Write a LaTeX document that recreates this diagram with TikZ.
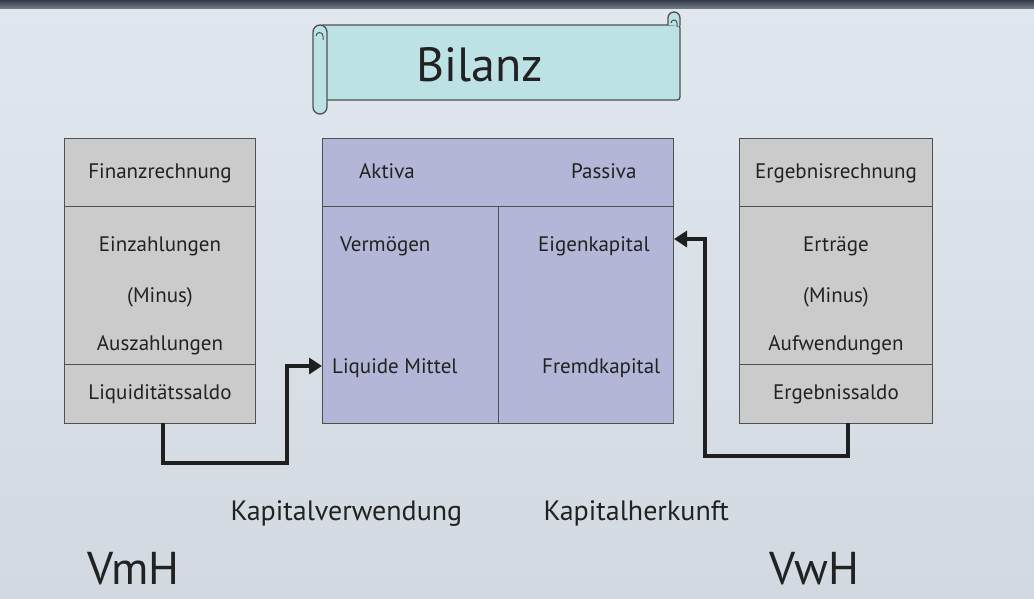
\documentclass[tikz,border=0pt]{standalone}
\usepackage{fontspec}
\setmainfont{PT Sans}
\usetikzlibrary{arrows.meta,positioning}
\definecolor{bgtop}{HTML}{E0E7EE}
\definecolor{bgbot}{HTML}{D2D9E1}
\definecolor{barcol}{HTML}{4B5666}
\definecolor{cellgray}{HTML}{CBCBCB}
\definecolor{cellblue}{HTML}{B3B6D6}
\definecolor{scrollcol}{HTML}{BDE2E5}
\definecolor{edgecol}{HTML}{505050}
\definecolor{txt}{HTML}{222222}
\tikzset{
  cell/.style = {draw=edgecol, line width=1pt, anchor=north west, inner sep=0pt},
  label text/.style = {text=txt, font=\fontsize{21}{24}\selectfont, inner sep=1pt, anchor=base},
  conn/.style = {line width=4pt, draw=black!88, -{Triangle[length=13pt,width=16pt]}},
  scroll/.style = {fill=scrollcol, draw=edgecol, line width=1.3pt}
}
\begin{document}
\begin{tikzpicture}[x=1pt, y=-1pt]
  % background and top bar
  \shade[top color=bgtop, bottom color=bgbot] (0,0) rectangle (1034,598);
  \shade[top color=barcol!70!black, bottom color=barcol!80] (0,0) rectangle (1034,8);
  \useasboundingbox (0,0) rectangle (1034,598);

  % scroll
  \draw[scroll, rounded corners=3pt] (320,25) -- (680,25) -- (680,100) -- (320,100) -- cycle;
  \draw[scroll] (668,25) -- (668,18) arc (180:360:6) -- (680,26);
  \draw[edgecol, line width=1pt] (671,23) arc (180:360:3) -- (677,27);
  \draw[scroll] (313,32) arc (180:360:7) -- (327,107) arc (0:180:7) -- cycle;
  \draw[edgecol, line width=1pt] (316,36) arc (180:360:3.5) -- (323,40);
  \node[text=txt, font=\fontsize{48}{52}\selectfont] (bilanz) at (480,65) {Bilanz};

  % Finanzrechnung
  \node[cell, fill=cellgray, minimum width=191pt, minimum height=68pt] (finhead) at (64,138) {};
  \node[cell, fill=cellgray, minimum width=191pt, minimum height=158pt] (finbody) at (64,206) {};
  \node[cell, fill=cellgray, minimum width=191pt, minimum height=59pt] (finsaldo) at (64,364) {};
  \node[label text] (finname) at (finhead.center |- 0,178) {Finanzrechnung};
  \node[label text] (einz) at (finhead.center |- 0,251) {Einzahlungen};
  \node[label text] (finminus) at (finhead.center |- 0,302) {(Minus)};
  \node[label text] (ausz) at (finhead.center |- 0,350) {Auszahlungen};
  \node[label text] (liqsaldo) at (finhead.center |- 0,399) {Liquiditätssaldo};

  % Bilanz table
  \node[cell, fill=cellblue, minimum width=351pt, minimum height=68pt] (bilhead) at (322,138) {};
  \node[cell, fill=cellblue, minimum width=176pt, minimum height=217pt] (aktiv) at (322,206) {};
  \node[cell, fill=cellblue, minimum width=175pt, minimum height=217pt] (passiv) at (498,206) {};
  \node[label text, anchor=base west] (aktiva) at (358,178) {Aktiva};
  \node[label text, anchor=base west] (passiva) at (570,178) {Passiva};
  \node[label text, anchor=base west] (vermoegen) at (339,251) {Vermögen};
  \node[label text, anchor=base west] (eigen) at (537,251) {Eigenkapital};
  \node[label text, anchor=base west] (liquide) at (331,373) {Liquide Mittel};
  \node[label text, anchor=base west] (fremd) at (541,373) {Fremdkapital};

  % Ergebnisrechnung
  \node[cell, fill=cellgray, minimum width=193pt, minimum height=68pt] (erghead) at (739,138) {};
  \node[cell, fill=cellgray, minimum width=193pt, minimum height=158pt] (ergbody) at (739,206) {};
  \node[cell, fill=cellgray, minimum width=193pt, minimum height=59pt] (ergsaldo) at (739,364) {};
  \node[label text] (ergname) at (erghead.center |- 0,178) {Ergebnisrechnung};
  \node[label text] (ertr) at (erghead.center |- 0,251) {Erträge};
  \node[label text] (ergminus) at (erghead.center |- 0,302) {(Minus)};
  \node[label text] (aufw) at (erghead.center |- 0,350) {Aufwendungen};
  \node[label text] (ergsaldotext) at (erghead.center |- 0,399) {Ergebnissaldo};

  % connectors
  \coordinate (lbend) at (287,463);
  \coordinate (rbend) at (705,456);
  \coordinate (lstart) at (163,423);
  \coordinate (rstart) at (848,423);
  \coordinate (ltarget) at (aktiv.west |- 0,366);
  \coordinate (rtarget) at (passiv.east |- 0,239);
  \draw[conn] (lstart) |- (lbend) |- (ltarget);
  \draw[conn] (rstart) |- (rbend) |- (rtarget);

  % bottom labels
  \node[text=txt, font=\fontsize{28}{32}\selectfont, anchor=base west] (verwendung) at (227,520) {Kapitalverwendung};
  \node[text=txt, font=\fontsize{28}{32}\selectfont, anchor=base west] (herkunft) at (540,520) {Kapitalherkunft};
  \node[text=txt, font=\fontsize{46}{50}\selectfont, anchor=base west] (vmh) at (84,584) {VmH};
  \node[text=txt, font=\fontsize{46}{50}\selectfont, anchor=base west] (vwh) at (766,584) {VwH};
\end{tikzpicture}
\end{document}
